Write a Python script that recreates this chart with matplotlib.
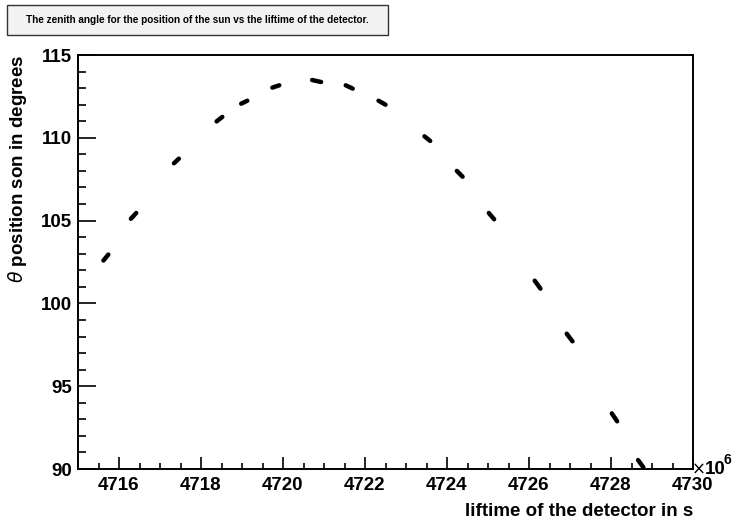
import matplotlib
matplotlib.use("Agg")
import matplotlib.pyplot as plt
from matplotlib.patches import Rectangle
from matplotlib.ticker import MultipleLocator

plt.rcParams['font.family'] = ['Liberation Sans', 'DejaVu Sans']

# detector lifetime (units of 1e6 s) and sun zenith angle, start/end of each data burst
t_start = [4715.62, 4716.29, 4717.34, 4718.38, 4718.98, 4719.74, 4720.71, 4721.53,
           4722.33, 4723.45, 4724.24, 4725.02, 4726.14, 4726.92, 4728.02, 4728.66]
t_end = [4715.74, 4716.42, 4717.46, 4718.52, 4719.13, 4719.91, 4720.93, 4721.70,
         4722.50, 4723.59, 4724.38, 4725.15, 4726.28, 4727.06, 4728.15, 4728.79]
theta_start = [102.59, 105.11, 108.46, 110.99, 112.06, 113.03, 113.49, 113.17,
               112.24, 110.09, 108.00, 105.46, 101.37, 98.17, 93.36, 90.54]
theta_end = [102.95, 105.46, 108.74, 111.26, 112.24, 113.17, 113.37, 112.97,
             112.00, 109.81, 107.65, 105.08, 100.89, 97.71, 92.88, 90.10]

W, H = 732, 521
fig = plt.figure(figsize=(W / 100, H / 100), dpi=100)
ax = fig.add_axes([78 / W, 1 - 469 / H, (693 - 78) / W, (469 - 55) / H])

for x0, x1, y0, y1 in zip(t_start, t_end, theta_start, theta_end):
    ax.plot([x0, x1], [y0, y1], color='black', lw=3.2, solid_capstyle='round')

ax.set_xlim(4715, 4730)
ax.set_ylim(90, 115)
ax.xaxis.set_major_locator(MultipleLocator(2))
ax.xaxis.set_minor_locator(MultipleLocator(0.5))
ax.yaxis.set_major_locator(MultipleLocator(5))
ax.yaxis.set_minor_locator(MultipleLocator(1))
ax.tick_params(which='both', direction='in', top=False, right=False, width=1.2)
ax.tick_params(axis='x', which='major', length=8.6, pad=6, labelsize=13.5)
ax.tick_params(axis='x', which='minor', length=4.3)
ax.tick_params(axis='y', which='major', length=13, pad=4, labelsize=13.5)
ax.tick_params(axis='y', which='minor', length=5.8)
for lab in ax.get_xticklabels() + ax.get_yticklabels():
    lab.set_fontweight('bold')
for sp in ax.spines.values():
    sp.set_linewidth(1.4)

ax.set_xlabel('liftime of the detector in s', fontsize=13.5, fontweight='bold',
              ha='right', x=1.0, labelpad=6)
ax.set_ylabel(r'$\theta$ position son in degrees', fontsize=13.5, fontweight='bold',
              ha='right', y=1.0, labelpad=9)

# exponent of the x axis
ax.text(0.997, 0.0, r'$\times$', transform=ax.transAxes, fontsize=12,
        ha='left', va='center')
ax.text(1.019, 0.0, '10', transform=ax.transAxes, fontsize=13.5, fontweight='bold',
        ha='left', va='center')
ax.text(1.050, 0.022, '6', transform=ax.transAxes, fontsize=10, fontweight='bold',
        ha='left', va='center')

# title box
fig.patches.append(Rectangle((7 / W, 1 - 35 / H), (388 - 7) / W, 30 / H,
                             transform=fig.transFigure, facecolor='#f2f2f2',
                             edgecolor='#333333', lw=1.0))
fig.text((7 + 388) / 2 / W, 1 - 20 / H,
         'The zenith angle for the position of the sun vs the liftime of the detector.',
         fontsize=7.2, fontweight='bold', ha='center', va='center')

fig.savefig('out.png', dpi=100)
